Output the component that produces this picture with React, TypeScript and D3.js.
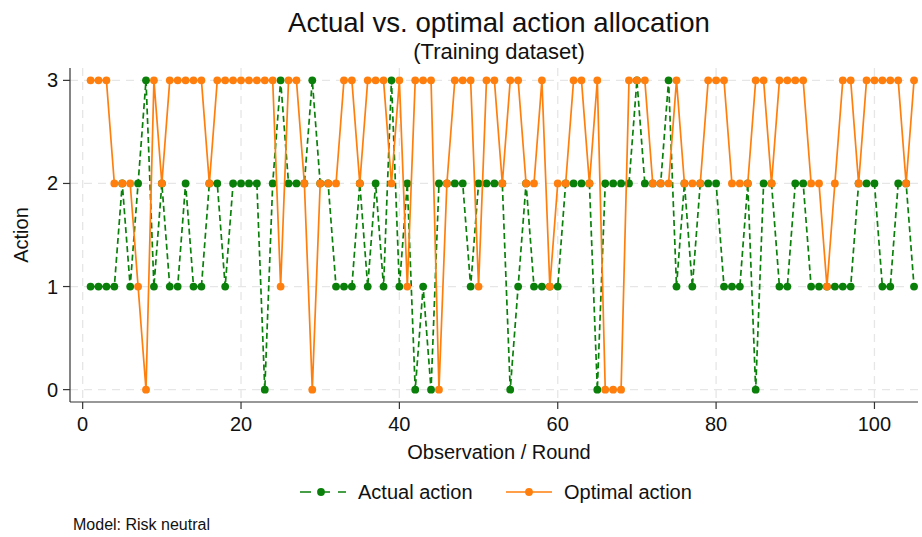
import React from 'react'
import * as d3 from 'd3'

// Action chosen per round (observation 1..105)
const actualAction = [
  1, 1, 1, 1, 2, 1, 2, 3, 1, 2, 1, 1, 2, 1, 1, 2, 2, 1, 2, 2,
  2, 2, 0, 2, 3, 2, 2, 2, 3, 2, 2, 1, 1, 1, 2, 1, 2, 1, 3, 1,
  2, 0, 1, 0, 2, 2, 2, 2, 1, 2, 2, 2, 2, 0, 1, 2, 1, 1, 1, 1,
  2, 2, 2, 2, 0, 2, 2, 2, 2, 3, 2, 2, 2, 3, 1, 2, 1, 2, 2, 2,
  1, 1, 1, 2, 0, 2, 2, 1, 1, 2, 2, 1, 1, 1, 1, 1, 1, 2, 2, 2,
  1, 1, 2, 2, 1,
]
const optimalAction = [
  3, 3, 3, 2, 2, 2, 1, 0, 3, 2, 3, 3, 3, 3, 3, 2, 3, 3, 3, 3,
  3, 3, 3, 3, 1, 3, 3, 2, 0, 2, 2, 2, 3, 3, 2, 3, 3, 3, 2, 3,
  1, 3, 3, 3, 0, 2, 3, 3, 3, 1, 3, 3, 2, 3, 3, 2, 2, 3, 1, 2,
  2, 3, 3, 2, 3, 0, 0, 0, 3, 3, 3, 2, 2, 2, 3, 2, 2, 2, 3, 3,
  3, 2, 2, 2, 3, 3, 2, 3, 3, 3, 3, 2, 2, 1, 2, 3, 3, 2, 3, 3,
  3, 3, 3, 2, 3,
]
const xTicks = [0, 20, 40, 60, 80, 100]
const yTicks = [0, 1, 2, 3]

const GREEN = '#0a800a'
const ORANGE = '#ff7f0e'
const GRID = '#e6e6e6'
const AXIS = '#333'
const FONT = '"Liberation Sans", Arial, Helvetica, sans-serif'

const W = 922
const H = 537

export default function App() {
  // plot region
  const left = 70
  const right = 918
  const top = 68
  const bottom = 402

  const x = d3.scaleLinear().domain([-1.6, 105.5]).range([left, right])
  const y = d3.scaleLinear().domain([-0.12, 3.12]).range([bottom, top])

  const actualPts = actualAction.map((v, i) => [i + 1, v] as [number, number])
  const optimalPts = optimalAction.map((v, i) => [i + 1, v] as [number, number])

  const line = d3.line<[number, number]>()
    .x(d => x(d[0]))
    .y(d => y(d[1]))

  return (
    <div style={{ position: 'absolute', left: 0, top: 0 }}>
      <svg width={W} height={H} style={{ display: 'block', fontFamily: FONT }}>
        <rect width={W} height={H} fill="#fff" />

        {/* titles */}
        <text x={499} y={32} textAnchor="middle" fontSize={27.6} fill="#111">
          Actual vs. optimal action allocation
        </text>
        <text x={499} y={59} textAnchor="middle" fontSize={22} fill="#111">
          (Training dataset)
        </text>

        {/* grid */}
        {yTicks.map(t => (
          <line key={'gy' + t} x1={left} x2={right} y1={y(t)} y2={y(t)}
            stroke={GRID} strokeWidth={1.3} strokeDasharray="8,6" />
        ))}
        {xTicks.map(t => (
          <line key={'gx' + t} x1={x(t)} x2={x(t)} y1={top} y2={bottom}
            stroke={GRID} strokeWidth={1.3} strokeDasharray="8,6" />
        ))}

        {/* actual series, dashed */}
        <path d={line(actualPts) || ''} fill="none" stroke={GREEN}
          strokeWidth={1.7} strokeDasharray="6,3.5" />
        {actualPts.map((d, i) => (
          <circle key={'a' + i} cx={x(d[0])} cy={y(d[1])} r={3.9} fill={GREEN} />
        ))}

        {/* optimal series */}
        <path d={line(optimalPts) || ''} fill="none" stroke={ORANGE} strokeWidth={1.7} />
        {optimalPts.map((d, i) => (
          <circle key={'o' + i} cx={x(d[0])} cy={y(d[1])} r={3.9} fill={ORANGE} />
        ))}

        {/* axes */}
        <line x1={left} x2={left} y1={top} y2={bottom} stroke={AXIS} strokeWidth={1.2} />
        <line x1={left} x2={right} y1={bottom} y2={bottom} stroke={AXIS} strokeWidth={1.2} />
        {yTicks.map(t => (
          <g key={'ty' + t}>
            <line x1={left - 7} x2={left} y1={y(t)} y2={y(t)} stroke={AXIS} strokeWidth={1.2} />
            <text x={left - 12} y={y(t) + 7} textAnchor="end" fontSize={20} fill="#111">{t}</text>
          </g>
        ))}
        {xTicks.map(t => (
          <g key={'tx' + t}>
            <line x1={x(t)} x2={x(t)} y1={bottom} y2={bottom + 7} stroke={AXIS} strokeWidth={1.2} />
            <text x={x(t)} y={bottom + 29} textAnchor="middle" fontSize={20} fill="#111">{t}</text>
          </g>
        ))}

        {/* axis titles */}
        <text x={499} y={459} textAnchor="middle" fontSize={20} fill="#111">Observation / Round</text>
        <text transform={`translate(28,${235}) rotate(-90)`} textAnchor="middle" fontSize={20} fill="#111">
          Action
        </text>

        {/* legend */}
        <g>
          <line x1={300} x2={346} y1={492} y2={492} stroke={GREEN} strokeWidth={1.7} strokeDasharray="11,8" />
          <circle cx={321} cy={492} r={3.9} fill={GREEN} />
          <text x={358} y={499} fontSize={20} fill="#111">Actual action</text>
          <line x1={506} x2={552} y1={492} y2={492} stroke={ORANGE} strokeWidth={1.7} />
          <circle cx={529} cy={492} r={3.9} fill={ORANGE} />
          <text x={564} y={499} fontSize={20} fill="#111">Optimal action</text>
        </g>

        {/* note */}
        <text x={73} y={530} fontSize={16} fill="#111">Model: Risk neutral</text>
      </svg>
    </div>
  )
}
